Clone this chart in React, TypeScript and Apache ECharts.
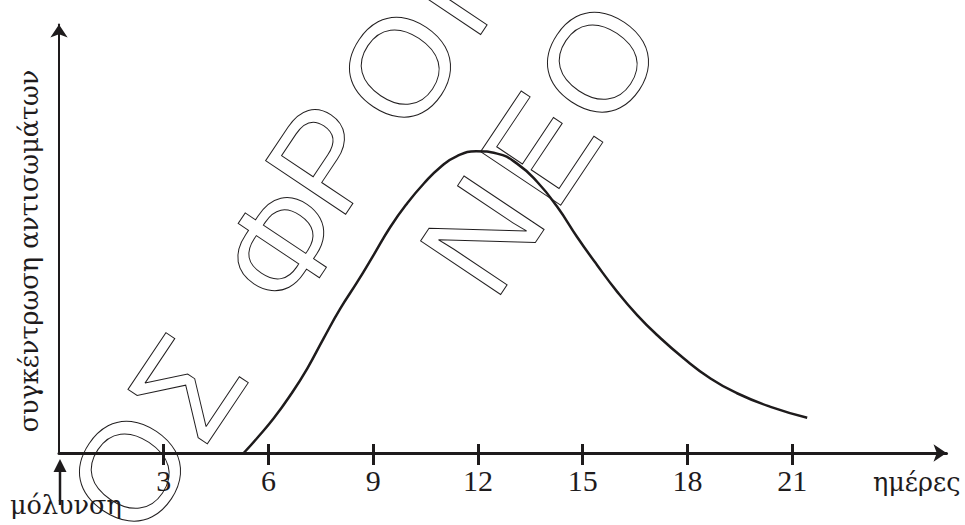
import React, { useEffect, useRef } from 'react';
import * as echarts from 'echarts';

// Data (days after infection, relative antibody concentration)
const days = [5.29, 5.67, 6.15, 6.63, 7.11, 7.58, 8.06, 8.54, 9.01, 9.49, 9.97, 10.45, 10.93, 11.4, 11.95, 12.55, 13.12, 13.7, 14.27, 14.84, 15.41, 15.99, 16.56, 17.13, 17.89, 18.66, 19.42, 20.38, 21.43];
const concentration = [0, 4.9, 11.5, 19.2, 28.0, 38.0, 47.9, 56.6, 65.6, 74.9, 82.7, 89.3, 94.8, 98.4, 100, 99.2, 95.9, 89.8, 81.6, 71.6, 62.3, 53.4, 45.7, 39.1, 31.4, 24.7, 19.8, 15.3, 11.7];
const tickDays = [3, 6, 9, 12, 15, 18, 21];
const xName = 'ημέρες';
const yName = 'συγκέντρωση αντισωμάτων';
const originLabel = 'μόλυνση';
const watermarkLetters = ['Ο', 'Σ', 'Φ', 'Ρ', 'Ο', 'Ν', 'Ν', 'Ε', 'Ο'];

const INK = '#1e1b1c';
const SERIF = 'Liberation Serif, DejaVu Serif, serif';
const GREEK_SERIF = 'DejaVu Serif';
const SANS = 'Liberation Sans, DejaVu Sans, sans-serif';

export default function App() {
  const ref = useRef<HTMLDivElement>(null);

  useEffect(() => {
    if (!ref.current) return;
    const chart = echarts.init(ref.current, undefined, { renderer: 'svg' });

    const data = days.map((d, i) => [d, concentration[i]]);

    // watermark letter centres (decoration only)
    const wmPos: [number, number][] = [
      [130, 471], [187, 387], [282, 245], [325, 158], [400, 67], [462, -25],
      [482, 235], [540, 149], [598, 62],
    ];
    const rot = (56.2 * Math.PI) / 180;
    const watermark = watermarkLetters.map((ch, i) => ({
      type: 'text',
      x: wmPos[i][0],
      y: wmPos[i][1],
      rotation: rot,
      silent: true,
      z: 1,
      style: {
        text: ch,
        fontFamily: SANS,
        fontSize: 140,
        fill: 'rgba(0,0,0,0)',
        stroke: INK,
        lineWidth: 1,
        align: 'center',
        verticalAlign: 'middle',
      },
    }));

    const textStyle = (text: string, align: string) => ({
      text,
      fontFamily: GREEK_SERIF,
      fontSize: 25.5,
      fill: INK,
      align,
      verticalAlign: 'middle',
    });

    chart.setOption({
      animation: false,
      backgroundColor: '#ffffff',
      grid: { left: 59, right: 18.5, top: 24.5, bottom: 72, containLabel: false },
      xAxis: [
        {
          type: 'value',
          min: 0,
          max: 25.42,
          position: 'bottom',
          axisLine: {
            show: true,
            onZero: false,
            symbol: ['none', 'arrow'],
            symbolSize: [13, 13],
            lineStyle: { color: INK, width: 3 },
          },
          axisTick: {
            show: true,
            length: 12,
            customValues: tickDays,
            lineStyle: { color: INK, width: 3 },
          },
          axisLabel: {
            show: true,
            customValues: tickDays,
            margin: 12,
            color: INK,
            fontFamily: SERIF,
            fontSize: 30,
          },
          splitLine: { show: false },
        },
        {
          type: 'value',
          min: 0,
          max: 25.42,
          position: 'bottom',
          axisLine: { show: false },
          axisTick: {
            show: true,
            inside: true,
            length: 9,
            customValues: tickDays,
            lineStyle: { color: INK, width: 3 },
          },
          axisLabel: { show: false },
          splitLine: { show: false },
        },
      ],
      yAxis: {
        type: 'value',
        min: 0,
        max: 142,
        axisLine: {
          show: true,
          symbol: ['none', 'arrow'],
          symbolSize: [13, 13],
          lineStyle: { color: INK, width: 2 },
        },
        axisTick: { show: false },
        axisLabel: { show: false },
        splitLine: { show: false },
      },
      series: [
        {
          type: 'line',
          data,
          xAxisIndex: 0,
          smooth: 0.5,
          showSymbol: false,
          symbol: 'none',
          lineStyle: { color: INK, width: 2.5 },
          z: 5,
        },
      ],
      graphic: [
        ...watermark,
        { type: 'text', x: 873, y: 482, style: textStyle(xName, 'left') },
        { type: 'text', x: 10, y: 505, style: textStyle(originLabel, 'left') },
        { type: 'text', x: 29, y: 251, rotation: Math.PI / 2, style: textStyle(yName, 'center') },
        {
          type: 'line',
          shape: { x1: 60, y1: 470, x2: 60, y2: 505 },
          style: { stroke: INK, lineWidth: 2.5 },
        },
        {
          type: 'polygon',
          shape: { points: [[60, 459], [53.5, 472], [66.5, 472]] },
          style: { fill: INK },
        },
      ],
    });

    return () => chart.dispose();
  }, []);

  return (
    <div
      ref={ref}
      style={{ position: 'absolute', left: 0, top: 0, width: 965, height: 525, background: '#fff' }}
    />
  );
}
